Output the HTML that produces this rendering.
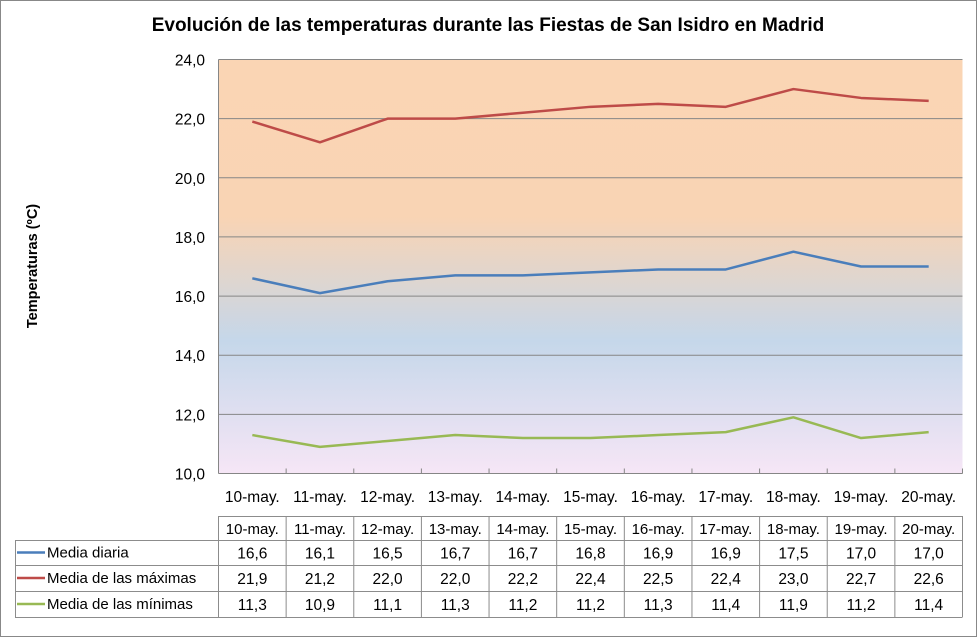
<!DOCTYPE html>
<html><head><meta charset="utf-8"><style>
body{margin:0;background:#fff;}
svg text{font-family:"Liberation Sans",sans-serif;}
</style></head><body>
<svg width="977" height="638" xmlns="http://www.w3.org/2000/svg">
<defs>
<linearGradient id="bg" x1="0" y1="0" x2="0" y2="1">
<stop offset="0" stop-color="#fad5b4"/>
<stop offset="0.38" stop-color="#f9d4b4"/>
<stop offset="0.68" stop-color="#c5d7ea"/>
<stop offset="1" stop-color="#f6e6f6"/>
</linearGradient>
</defs>
<rect x="0.5" y="0.5" width="976" height="636" fill="#fff" stroke="#888"/>
<text x="488" y="31" text-anchor="middle" font-size="19" font-weight="bold" fill="#000">Evolución de las temperaturas durante las Fiestas de San Isidro en Madrid</text>
<text transform="translate(37,266) rotate(-90)" text-anchor="middle" font-size="14.5" font-weight="bold">Temperaturas  (ºC)</text>
<rect x="218.5" y="59.5" width="744" height="414" fill="url(#bg)"/>
<g id="grid"></g><g id="series"></g><g id="table"></g>
</svg>
<script>
const categories=["10-may.","11-may.","12-may.","13-may.","14-may.","15-may.","16-may.","17-may.","18-may.","19-may.","20-may."];
const mediaDiaria=[16.6,16.1,16.5,16.7,16.7,16.8,16.9,16.9,17.5,17.0,17.0];
const mediaMaximas=[21.9,21.2,22.0,22.0,22.2,22.4,22.5,22.4,23.0,22.7,22.6];
const mediaMinimas=[11.3,10.9,11.1,11.3,11.2,11.2,11.3,11.4,11.9,11.2,11.4];
const yTicks=[10,12,14,16,18,20,22,24];
const NS="http://www.w3.org/2000/svg";
const L=218.5,R=962.5,T=59.5,B=473.5,ymin=10,ymax=24;
const bw=(R-L)/categories.length;
const xs=i=>L+bw*(i+0.5);
const ys=v=>B-(v-ymin)/(ymax-ymin)*(B-T);
const fmt=v=>v.toFixed(1).replace('.',',');
function mk(t,a,p,txt){const e=document.createElementNS(NS,t);for(const k in a)e.setAttribute(k,a[k]);if(txt!=null)e.textContent=txt;p.appendChild(e);return e;}
const g=document.getElementById('grid');
yTicks.forEach(v=>{
 const ln=mk('line',{x1:L,x2:R,y1:ys(v),y2:ys(v),stroke:'#868686','stroke-width':1},g);
 
 
 const tx=mk('text',{x:205,y:ys(v)+6,'text-anchor':'end','font-size':15.5},g,fmt(v));
 
 
});
const ax=mk('line',{x1:L,x2:L,y1:T,y2:B,stroke:'#868686'},g);


categories.forEach((c,i)=>{
 const tk=mk('line',{x1:L+bw*(i+1),x2:L+bw*(i+1),y1:B,y2:B-5,stroke:'#868686'},g);
 
 
 const t=mk('text',{x:xs(i),y:502,'text-anchor':'middle','font-size':15.5},g,c);
 
 
});
const series=[["media-diaria","Media diaria",mediaDiaria,"#4a7ebb"],["media-maximas","Media de las máximas",mediaMaximas,"#be4b48"],["media-minimas","Media de las mínimas",mediaMinimas,"#98b954"]];
const sg=document.getElementById('series');
series.forEach(s=>{
 const p=mk('polyline',{points:s[2].map((v,i)=>xs(i)+','+ys(v)).join(' '),fill:'none',stroke:s[3],'stroke-width':2.5,'stroke-linejoin':'round'},sg);
 
 
});
const tg=document.getElementById('table');
const rowsY=[516,540,565,591,617];
const gs='#8c8c8c';
mk('line',{x1:L,x2:R,y1:rowsY[0]+0.5,y2:rowsY[0]+0.5,stroke:gs},tg);
for(let r=1;r<rowsY.length;r++)mk('line',{x1:15,x2:R,y1:rowsY[r]+0.5,y2:rowsY[r]+0.5,stroke:gs},tg);
mk('line',{x1:15.5,x2:15.5,y1:rowsY[1],y2:rowsY[4],stroke:gs},tg);
for(let i=0;i<=categories.length;i++){const x=L+bw*i;mk('line',{x1:x,x2:x,y1:rowsY[0],y2:rowsY[4],stroke:gs},tg);}
categories.forEach((c,i)=>{
 const t=mk('text',{x:xs(i),y:534,'text-anchor':'middle','font-size':15},tg,c);
 
 
});
series.forEach((s,r)=>{
 const yc=(rowsY[r+1]+rowsY[r+2])/2;
 const lk=mk('line',{x1:17,x2:45,y1:yc,y2:yc,stroke:s[3],'stroke-width':2.5},tg);
 
 
 const lt=mk('text',{x:47,y:yc+5,'font-size':15},tg,s[1]);
 
 
 s[2].forEach((v,i)=>{
  const t=mk('text',{x:xs(i),y:yc+6,'text-anchor':'middle','font-size':15.5},tg,fmt(v));
  
  
 });
});
</script>
</body></html>
